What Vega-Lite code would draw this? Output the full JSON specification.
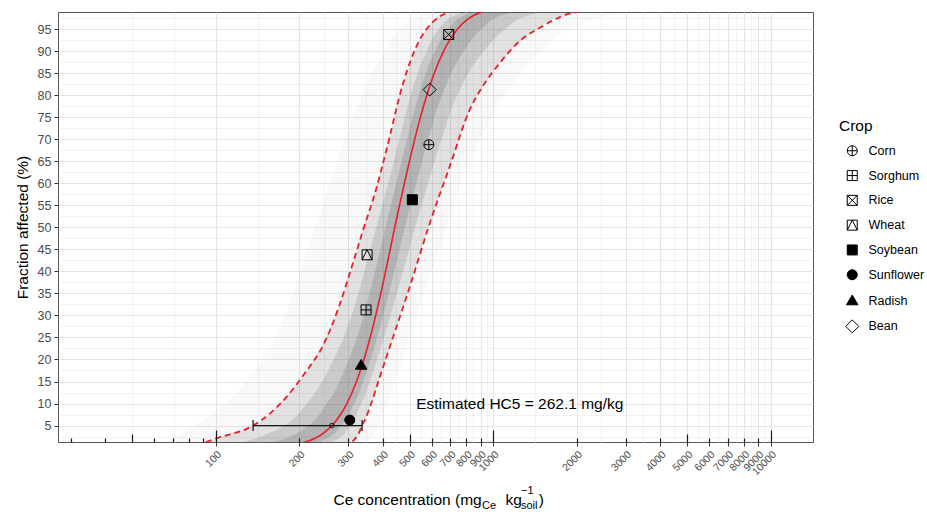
{
  "$schema": "https://vega.github.io/schema/vega-lite/v6.json",
  "width": 755,
  "height": 430,
  "autosize": "none",
  "padding": {"left": 58, "top": 12, "right": 114, "bottom": 70},
  "background": "white",
  "config": {
    "font": "Liberation Sans",
    "view": {"stroke": "#555555", "strokeWidth": 1},
    "axis": {"labelFont": "Liberation Sans", "titleFont": "Liberation Sans"}
  },
  "datasets": {
    "bands": [
      {"b": "outer", "y": 0.5, "x1": 57.8, "x2": 340},
      {"b": "outer", "y": 2, "x1": 68.2, "x2": 360},
      {"b": "outer", "y": 5, "x1": 83.9, "x2": 385},
      {"b": "outer", "y": 10, "x1": 107.6, "x2": 415},
      {"b": "outer", "y": 20, "x1": 146.6, "x2": 470},
      {"b": "outer", "y": 30, "x1": 177.4, "x2": 530},
      {"b": "outer", "y": 40, "x1": 200.9, "x2": 600},
      {"b": "outer", "y": 50, "x1": 227.5, "x2": 680},
      {"b": "outer", "y": 60, "x1": 257.6, "x2": 760},
      {"b": "outer", "y": 70, "x1": 291.7, "x2": 900},
      {"b": "outer", "y": 80, "x1": 335.7, "x2": 1100},
      {"b": "outer", "y": 90, "x1": 406.4, "x2": 1500},
      {"b": "outer", "y": 95, "x1": 460.3, "x2": 1900},
      {"b": "outer", "y": 98, "x1": 543.3, "x2": 2600},
      {"b": "outer", "y": 99.5, "x1": 668.4, "x2": 3500},
      {"b": "b95", "y": 0.5, "x1": 85.1, "x2": 288.4},
      {"b": "b95", "y": 2, "x1": 99.5, "x2": 316.2},
      {"b": "b95", "y": 5, "x1": 136.2, "x2": 336.5},
      {"b": "b95", "y": 10, "x1": 170.2, "x2": 363.1},
      {"b": "b95", "y": 20, "x1": 225.4, "x2": 409.3},
      {"b": "b95", "y": 30, "x1": 270.4, "x2": 462.4},
      {"b": "b95", "y": 40, "x1": 305.5, "x2": 520.8},
      {"b": "b95", "y": 50, "x1": 342, "x2": 584.3},
      {"b": "b95", "y": 60, "x1": 382.8, "x2": 663.8},
      {"b": "b95", "y": 70, "x1": 421.3, "x2": 754.9},
      {"b": "b95", "y": 80, "x1": 461.7, "x2": 878.7},
      {"b": "b95", "y": 90, "x1": 524, "x2": 1155},
      {"b": "b95", "y": 95, "x1": 575.4, "x2": 1445},
      {"b": "b95", "y": 98, "x1": 647.6, "x2": 1784},
      {"b": "b95", "y": 99.5, "x1": 775, "x2": 2399},
      {"b": "mid", "y": 0.5, "x1": 115.8, "x2": 240.9},
      {"b": "mid", "y": 2, "x1": 138.2, "x2": 276.5},
      {"b": "mid", "y": 5, "x1": 177, "x2": 304.6},
      {"b": "mid", "y": 10, "x1": 212.6, "x2": 335},
      {"b": "mid", "y": 20, "x1": 266.3, "x2": 380.9},
      {"b": "mid", "y": 30, "x1": 308.9, "x2": 426.2},
      {"b": "mid", "y": 40, "x1": 343.4, "x2": 473.2},
      {"b": "mid", "y": 50, "x1": 378.8, "x2": 522.7},
      {"b": "mid", "y": 60, "x1": 418.5, "x2": 582.2},
      {"b": "mid", "y": 70, "x1": 459, "x2": 651.1},
      {"b": "mid", "y": 80, "x1": 504.3, "x2": 742.4},
      {"b": "mid", "y": 90, "x1": 575.3, "x2": 925.4},
      {"b": "mid", "y": 95, "x1": 637.6, "x2": 1107.9},
      {"b": "mid", "y": 98, "x1": 720.6, "x2": 1324},
      {"b": "mid", "y": 99.5, "x1": 857.7, "x2": 1689},
      {"b": "inner", "y": 0.5, "x1": 146, "x2": 210.5},
      {"b": "inner", "y": 2, "x1": 176.8, "x2": 250.1},
      {"b": "inner", "y": 5, "x1": 215.4, "x2": 282.6},
      {"b": "inner", "y": 10, "x1": 251.2, "x2": 315.3},
      {"b": "inner", "y": 20, "x1": 301.7, "x2": 360.8},
      {"b": "inner", "y": 30, "x1": 341.2, "x2": 400.9},
      {"b": "inner", "y": 40, "x1": 374.9, "x2": 440.1},
      {"b": "inner", "y": 50, "x1": 409, "x2": 480.4},
      {"b": "inner", "y": 60, "x1": 447.5, "x2": 527.9},
      {"b": "inner", "y": 70, "x1": 489.2, "x2": 582.6},
      {"b": "inner", "y": 80, "x1": 539.1, "x2": 654.2},
      {"b": "inner", "y": 90, "x1": 617.4, "x2": 782.9},
      {"b": "inner", "y": 95, "x1": 688.3, "x2": 907.4},
      {"b": "inner", "y": 98, "x1": 780.9, "x2": 1058},
      {"b": "inner", "y": 99.5, "x1": 925.1, "x2": 1298}
    ],
    "lo": [
      {"x": 85.1, "y": 0.5}, {"x": 92.3, "y": 1.27}, {"x": 100, "y": 2.05},
      {"x": 136.2, "y": 5}, {"x": 158.5, "y": 8}, {"x": 179.9, "y": 11.5},
      {"x": 208.9, "y": 16.8}, {"x": 245.5, "y": 23.6}, {"x": 277.9, "y": 32},
      {"x": 309, "y": 41}, {"x": 339.6, "y": 49.4}, {"x": 375.8, "y": 58},
      {"x": 412.2, "y": 67.6}, {"x": 473.2, "y": 82.7}, {"x": 543.4, "y": 92.6},
      {"x": 575.4, "y": 95}, {"x": 647.6, "y": 98}, {"x": 678.3, "y": 98.6},
      {"x": 775, "y": 99.5}
    ],
    "hi": [
      {"x": 288.4, "y": 0.5}, {"x": 309, "y": 1.27}, {"x": 327.3, "y": 3.2},
      {"x": 336.5, "y": 5}, {"x": 344.3, "y": 6.2}, {"x": 363.1, "y": 10},
      {"x": 389.9, "y": 16}, {"x": 435.6, "y": 25.1}, {"x": 500.2, "y": 36.5},
      {"x": 590.4, "y": 50.9}, {"x": 696.9, "y": 63.8}, {"x": 822.7, "y": 76.7},
      {"x": 901.6, "y": 81.3}, {"x": 1047, "y": 87}, {"x": 1246, "y": 92.3},
      {"x": 1471.5, "y": 95.3}, {"x": 1784, "y": 98}, {"x": 2239, "y": 99.3},
      {"x": 2818, "y": 99.8}
    ],
    "red": [
      {"x": 183.9, "y": 0.5}, {"x": 203.5, "y": 1}, {"x": 226.2, "y": 2},
      {"x": 241.1, "y": 3}, {"x": 262.3, "y": 5}, {"x": 281.6, "y": 7.5},
      {"x": 296.8, "y": 10}, {"x": 321.5, "y": 15}, {"x": 341.9, "y": 20},
      {"x": 360.1, "y": 25}, {"x": 377.1, "y": 30}, {"x": 393.4, "y": 35},
      {"x": 409.3, "y": 40}, {"x": 425.2, "y": 45}, {"x": 441.6, "y": 50},
      {"x": 459.5, "y": 55}, {"x": 478.4, "y": 60}, {"x": 498.9, "y": 65},
      {"x": 521.3, "y": 70}, {"x": 546.6, "y": 75}, {"x": 576.4, "y": 80},
      {"x": 613.1, "y": 85}, {"x": 662.5, "y": 90}, {"x": 704.6, "y": 93},
      {"x": 743.4, "y": 95}, {"x": 801, "y": 97}, {"x": 846.1, "y": 98},
      {"x": 922.4, "y": 99}, {"x": 998.2, "y": 99.5}
    ],
    "pts": [
      {"crop": "Sunflower", "x": 304, "y": 6.25},
      {"crop": "Radish", "x": 334, "y": 18.75},
      {"crop": "Sorghum", "x": 348, "y": 31.25},
      {"crop": "Wheat", "x": 351, "y": 43.75},
      {"crop": "Soybean", "x": 511, "y": 56.25},
      {"crop": "Corn", "x": 586, "y": 68.75},
      {"crop": "Bean", "x": 590, "y": 81.25},
      {"crop": "Rice", "x": 691, "y": 93.75}
    ],
    "bar": [{"lo": 136.3, "hi": 336.7, "y": 5}],
    "caps": [{"x": 136.3, "y": 5}, {"x": 336.7, "y": 5}],
    "hc5": [{"x": 262.1, "y": 5}],
    "note": [{"label": "Estimated HC5 = 262.1 mg/kg", "x": 1246, "y": 10}]
  },
  "layer": [
    {
      "data": {"name": "bands"},
      "transform": [{"filter": "datum.b === 'outer'"}],
      "mark": {"type": "area", "orient": "horizontal", "interpolate": "monotone", "clip": true, "fill": "#5a5a5a", "opacity": 0.04},
      "encoding": {
        "y": {"field": "y", "type": "quantitative", "scale": {"domain": [1.27, 98.86], "nice": false, "zero": false},
          "axis": {"orient": "left", "values": [5,10,15,20,25,30,35,40,45,50,55,60,65,70,75,80,85,90,95], "format": "d", "grid": true, "gridColor": "#e4e4e4", "gridWidth": 1, "domain": false, "ticks": true, "tickSize": 4, "tickColor": "#333333", "labelPadding": 3, "labelFontSize": 12.5, "labelColor": "#4d4d4d", "title": "Fraction affected (%)", "titleFontSize": 15.5, "titleFontWeight": "normal", "titleColor": "#000000", "titlePadding": 7}},
        "x": {"field": "x1", "type": "quantitative", "stack": null, "scale": {"type": "log", "domain": [27, 14200], "nice": false},
          "axis": {"orient": "bottom", "values": [100,200,300,400,500,600,700,800,900,1000,2000,3000,4000,5000,6000,7000,8000,9000,10000], "format": "d", "grid": true, "gridColor": "#e4e4e4", "gridWidth": 1, "domain": false, "ticks": true, "tickSize": 4, "tickColor": "#333333", "tickWidth": 1, "labelAngle": -45, "labelAlign": "right", "labelBaseline": "top", "labelPadding": 3, "labelFontSize": 10.5, "labelColor": "#4d4d4d", "labelOverlap": false, "labelFlush": false, "labelBound": false,
            "title": "Ce concentration (mg", "titleFontSize": 15.5, "titleFontWeight": "normal", "titleColor": "#000000", "titleAlign": "left", "titleBaseline": "alphabetic", "titleX": 275, "titleY": 62.5}},
        "x2": {"field": "x2"}
      }
    },
    {
      "data": {"name": "bands"},
      "transform": [{"filter": "datum.b === 'b95'"}],
      "mark": {"type": "area", "orient": "horizontal", "interpolate": "monotone", "clip": true, "fill": "#5a5a5a", "opacity": 0.15},
      "encoding": {
        "y": {"field": "y", "type": "quantitative", "scale": {"domain": [1.27, 98.86], "nice": false, "zero": false},
          "axis": {"orient": "left", "values": [2.5,7.5,12.5,17.5,22.5,27.5,32.5,37.5,42.5,47.5,52.5,57.5,62.5,67.5,72.5,77.5,82.5,87.5,92.5,97.5], "grid": true, "gridColor": "#ececec", "gridWidth": 0.7, "domain": false, "ticks": false, "labels": false, "title": null}},
        "x": {"field": "x1", "type": "quantitative", "stack": null, "scale": {"type": "log", "domain": [27, 14200], "nice": false},
          "axis": {"orient": "bottom", "values": [50,70.71,141.42,244.95,346.41,447.21,547.72,648.07,748.33,848.53,948.68,1414.2,2449.5,3464.1,4472.1,5477.2,6480.7,7483.3,8485.3,9486.8], "grid": true, "gridColor": "#ececec", "gridWidth": 0.7, "domain": false, "ticks": false, "labels": false,
            "title": "Ce", "titleFontSize": 11, "titleFontWeight": "normal", "titleColor": "#000000", "titleAlign": "left", "titleBaseline": "alphabetic", "titleX": 423.5, "titleY": 66}},
        "x2": {"field": "x2"}
      }
    },
    {
      "data": {"name": "bands"},
      "transform": [{"filter": "datum.b === 'mid'"}],
      "mark": {"type": "area", "orient": "horizontal", "interpolate": "monotone", "clip": true, "fill": "#5a5a5a", "opacity": 0.17},
      "encoding": {
        "y": {"field": "y", "type": "quantitative", "scale": {"domain": [1.27, 98.86], "nice": false, "zero": false}, "axis": null},
        "x": {"field": "x1", "type": "quantitative", "stack": null, "scale": {"type": "log", "domain": [27, 14200], "nice": false},
          "axis": {"orient": "bottom", "values": [100, 1000, 10000], "grid": false, "domain": false, "ticks": true, "tickSize": -12, "tickColor": "#1a1a1a", "tickWidth": 1.2, "labels": false, "zindex": 1,
            "title": "kg", "titleFontSize": 15.5, "titleFontWeight": "normal", "titleColor": "#000000", "titleAlign": "left", "titleBaseline": "alphabetic", "titleX": 447, "titleY": 62.5}},
        "x2": {"field": "x2"}
      }
    },
    {
      "data": {"name": "bands"},
      "transform": [{"filter": "datum.b === 'inner'"}],
      "mark": {"type": "area", "orient": "horizontal", "interpolate": "monotone", "clip": true, "fill": "#5a5a5a", "opacity": 0.2},
      "encoding": {
        "y": {"field": "y", "type": "quantitative", "scale": {"domain": [1.27, 98.86], "nice": false, "zero": false}, "axis": null},
        "x": {"field": "x1", "type": "quantitative", "stack": null, "scale": {"type": "log", "domain": [27, 14200], "nice": false},
          "axis": {"orient": "bottom", "values": [50, 500, 5000], "grid": false, "domain": false, "ticks": true, "tickSize": -8, "tickColor": "#1a1a1a", "tickWidth": 1.2, "labels": false, "zindex": 1,
            "title": "−1", "titleFontSize": 11, "titleFontWeight": "normal", "titleColor": "#000000", "titleAlign": "left", "titleBaseline": "alphabetic", "titleX": 462.5, "titleY": 51.5}},
        "x2": {"field": "x2"}
      }
    },
    {
      "data": {"name": "lo"},
      "mark": {"type": "line", "color": "#e8202a", "strokeWidth": 1.8, "strokeDash": [6, 4], "interpolate": "monotone", "clip": true},
      "encoding": {
        "y": {"field": "y", "type": "quantitative", "scale": {"domain": [1.27, 98.86], "nice": false, "zero": false}, "axis": null},
        "x": {"field": "x", "type": "quantitative", "scale": {"type": "log", "domain": [27, 14200], "nice": false},
          "axis": {"orient": "bottom", "values": [30,40,60,70,80,90,200,300,400,600,700,800,900,2000,3000,4000,6000,7000,8000,9000], "grid": false, "domain": false, "ticks": true, "tickSize": -4, "tickColor": "#1a1a1a", "tickWidth": 1.2, "labels": false, "zindex": 1,
            "title": "soil", "titleFontSize": 11, "titleFontWeight": "normal", "titleColor": "#000000", "titleAlign": "left", "titleBaseline": "alphabetic", "titleX": 462.5, "titleY": 66.5}}
      }
    },
    {
      "data": {"name": "hi"},
      "mark": {"type": "line", "color": "#e8202a", "strokeWidth": 1.8, "strokeDash": [6, 4], "interpolate": "monotone", "clip": true},
      "encoding": {
        "y": {"field": "y", "type": "quantitative", "scale": {"domain": [1.27, 98.86], "nice": false, "zero": false}, "axis": null},
        "x": {"field": "x", "type": "quantitative", "scale": {"type": "log", "domain": [27, 14200], "nice": false},
          "axis": {"orient": "bottom", "values": [100], "grid": false, "domain": false, "ticks": false, "labels": false,
            "title": ")", "titleFontSize": 15.5, "titleFontWeight": "normal", "titleColor": "#000000", "titleAlign": "left", "titleBaseline": "alphabetic", "titleX": 480.3, "titleY": 62.5}}
      }
    },
    {
      "data": {"name": "red"},
      "mark": {"type": "line", "color": "#e8202a", "strokeWidth": 1.6, "interpolate": "monotone", "clip": true},
      "encoding": {
        "y": {"field": "y", "type": "quantitative", "scale": {"domain": [1.27, 98.86], "nice": false, "zero": false}, "axis": null},
        "x": {"field": "x", "type": "quantitative", "scale": {"type": "log", "domain": [27, 14200], "nice": false}, "axis": null}
      }
    },
    {
      "data": {"name": "bar"},
      "mark": {"type": "rule", "color": "#1a1a1a", "strokeWidth": 1.3},
      "encoding": {
        "y": {"field": "y", "type": "quantitative", "scale": {"domain": [1.27, 98.86], "nice": false, "zero": false}, "axis": null},
        "x": {"field": "lo", "type": "quantitative", "scale": {"type": "log", "domain": [27, 14200], "nice": false}, "axis": null},
        "x2": {"field": "hi"}
      }
    },
    {
      "data": {"name": "caps"},
      "mark": {"type": "tick", "orient": "vertical", "size": 11, "thickness": 1.3, "color": "#1a1a1a", "opacity": 1},
      "encoding": {
        "y": {"field": "y", "type": "quantitative", "scale": {"domain": [1.27, 98.86], "nice": false, "zero": false}, "axis": null},
        "x": {"field": "x", "type": "quantitative", "scale": {"type": "log", "domain": [27, 14200], "nice": false}, "axis": null}
      }
    },
    {
      "data": {"name": "hc5"},
      "mark": {"type": "point", "shape": "circle", "size": 22, "filled": false, "stroke": "#1a1a1a", "strokeWidth": 1, "opacity": 1},
      "encoding": {
        "y": {"field": "y", "type": "quantitative", "scale": {"domain": [1.27, 98.86], "nice": false, "zero": false}, "axis": null},
        "x": {"field": "x", "type": "quantitative", "scale": {"type": "log", "domain": [27, 14200], "nice": false}, "axis": null}
      }
    },
    {
      "data": {"name": "pts"},
      "mark": {"type": "point", "filled": true, "stroke": "#000000", "strokeWidth": 1, "opacity": 1, "size": 100},
      "encoding": {
        "y": {"field": "y", "type": "quantitative", "scale": {"domain": [1.27, 98.86], "nice": false, "zero": false}, "axis": null},
        "x": {"field": "x", "type": "quantitative", "scale": {"type": "log", "domain": [27, 14200], "nice": false}, "axis": null},
        "shape": {"field": "crop", "type": "nominal", "title": "Crop",
          "scale": {"domain": ["Corn","Sorghum","Rice","Wheat","Soybean","Sunflower","Radish","Bean"],
            "range": [
              "M-1,0A1,1,0,1,1,1,0A1,1,0,1,1,-1,0ZM-1,0L1,0M0,-1L0,1",
              "M-1,-1L1,-1L1,1L-1,1ZM-1,0L1,0M0,-1L0,1",
              "M-1,-1L1,-1L1,1L-1,1ZM-1,-1L1,1M-1,1L1,-1",
              "M-1,-1L1,-1L1,1L-1,1ZM-1,1L0,-1L1,1",
              "M-1,-1L1,-1L1,1L-1,1Z",
              "M-1,0A1,1,0,1,1,1,0A1,1,0,1,1,-1,0Z",
              "M-1.15,0.85L0,-1.1L1.15,0.85Z",
              "M0,-1.3L1.3,0L0,1.3L-1.3,0Z"
            ]},
          "legend": {"orient": "none", "legendX": 781, "legendY": 107, "titleFontSize": 15.5, "titleFontWeight": "normal", "titleColor": "#000000", "titlePadding": 10, "labelFontSize": 12.5, "labelColor": "#000000", "symbolSize": 100, "symbolStrokeWidth": 1, "symbolStrokeColor": "#000000", "symbolOffset": 7, "labelOffset": 10, "rowPadding": 9.8}},
        "fill": {"field": "crop", "type": "nominal", "title": "Crop",
          "scale": {"domain": ["Corn","Sorghum","Rice","Wheat","Soybean","Sunflower","Radish","Bean"],
            "range": ["transparent","transparent","transparent","transparent","#000000","#000000","#000000","transparent"]},
          "legend": {"orient": "none", "legendX": 781, "legendY": 107, "titleFontSize": 15.5, "titleFontWeight": "normal", "titleColor": "#000000", "titlePadding": 10, "labelFontSize": 12.5, "labelColor": "#000000", "symbolSize": 100, "symbolStrokeWidth": 1, "symbolStrokeColor": "#000000", "symbolOffset": 7, "labelOffset": 10, "rowPadding": 9.8}},
        "stroke": {"field": "crop", "type": "nominal", "title": "Crop",
          "scale": {"domain": ["Corn","Sorghum","Rice","Wheat","Soybean","Sunflower","Radish","Bean"],
            "range": ["#000000","#000000","#000000","#000000","#000000","#000000","#000000","#000000"]},
          "legend": {"orient": "none", "legendX": 781, "legendY": 107, "titleFontSize": 15.5, "titleFontWeight": "normal", "titleColor": "#000000", "titlePadding": 10, "labelFontSize": 12.5, "labelColor": "#000000", "symbolSize": 100, "symbolStrokeWidth": 1, "symbolStrokeColor": "#000000", "symbolOffset": 7, "labelOffset": 10, "rowPadding": 9.8}}
      }
    },
    {
      "data": {"name": "note"},
      "mark": {"type": "text", "fontSize": 15.5, "align": "center", "baseline": "middle", "color": "#000000"},
      "encoding": {
        "y": {"field": "y", "type": "quantitative", "scale": {"domain": [1.27, 98.86], "nice": false, "zero": false}, "axis": null},
        "x": {"field": "x", "type": "quantitative", "scale": {"type": "log", "domain": [27, 14200], "nice": false}, "axis": null},
        "text": {"field": "label", "type": "nominal"}
      }
    }
  ],
  "resolve": {"axis": {"x": "independent", "y": "independent"}}
}
